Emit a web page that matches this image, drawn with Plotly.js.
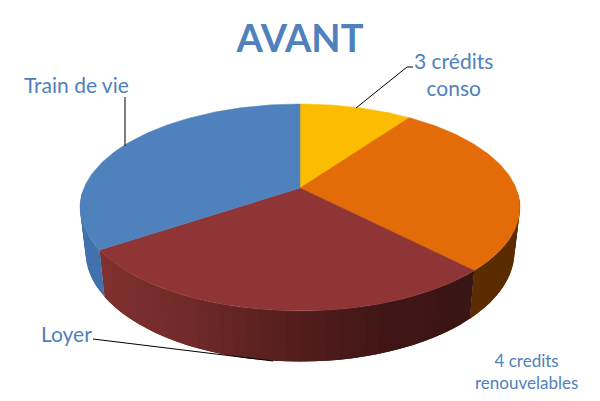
<!DOCTYPE html>
<html><head><meta charset="utf-8">
<script src="https://cdn.plot.ly/plotly-3.0.0.min.js"></script>
<style>html,body{margin:0;padding:0;background:#fff}#c{width:600px;height:401px}</style>
</head><body><div id="c"></div>
<script>
// Data, clockwise from the top of the pie
const categories = ["3 crédits conso", "4 credits renouvelables", "Loyer", "Train de vie"];
const values = [9.9, 27.8, 27.9, 34.4];

// Styles
const topColors = ["#FCBD00", "#E36C09", "#8F3535", "#4F81BD"];
const textColor = "#4F81BD";
const fontFamily = "Lato, 'Open Sans', sans-serif";

// Perspective of the tilted disc, in picture units
const k = 0.188;
const topFace = {cx: 300, cy: 188, a: 216, b: 99.8};
const bottomFace = {cx: 300, cy: 231, a: 210.6, b: 106};
function project(face, deg) {
  const t = deg * Math.PI / 180, u = Math.sin(t), v = -Math.cos(t), w = 1 - k * v;
  return [face.cx + face.a * u / w, face.cy + face.b * v / w];
}
function wallColor(i, x) {
  if (i === 3) return "#4272AB";
  if (i === 1) return "#5A2C00";
  if (i === 0) return "#7A5C00";
  const stops = [[100,[128,49,48]],[200,[112,42,41]],[300,[86,30,30]],[400,[64,22,21]],[470,[57,21,20]]];
  let a = stops[0], b = stops[stops.length-1];
  for (let j = 0; j < stops.length-1; j++) if (x >= stops[j][0] && x <= stops[j+1][0]) { a = stops[j]; b = stops[j+1]; }
  const f = Math.min(1, Math.max(0, (x - a[0]) / (b[0] - a[0])));
  return "rgb(" + a[1].map((c, n) => Math.round(c + (b[1][n] - c) * f)).join(",") + ")";
}

const total = values.reduce((s, v) => s + v, 0);
const traces = [];
const base = {type: "scatter", mode: "none", fill: "toself", hoverinfo: "skip", showlegend: false};
let start = 0;
const spans = values.map(v => { const s = [start, start + v / total * 360]; start = s[1]; return s; });

// Side wall in strips: the rim's outline follows the tilted disc and the red shade changes along it.
spans.forEach((s, i) => {
  const from = Math.max(s[0], 92), to = Math.min(s[1], 268);
  if (to <= from) return;
  const n = Math.ceil((to - from) / 3);
  for (let j = n - 1; j >= 0; j--) {
    const a0 = from + (to - from) * j / n;
    // each strip runs on under its neighbour so no seam shows between them
    const a1 = Math.min(to, from + (to - from) * (j + 2) / n);
    const a1own = from + (to - from) * (j + 1) / n;
    const aMid = (a0 + a1) / 2;
    const p = [project(topFace, a0), project(topFace, aMid), project(topFace, a1),
               project(bottomFace, a1), project(bottomFace, aMid), project(bottomFace, a0), project(topFace, a0)];
    const col = wallColor(i, project(topFace, (a0 + a1own) / 2)[0]);
    traces.push(Object.assign({}, base, {x: p.map(q => q[0]), y: p.map(q => q[1]), fillcolor: col}));
  }
});

// Top face
spans.forEach((s, i) => {
  const xs = [topFace.cx], ys = [topFace.cy];
  const n = Math.ceil(s[1] - s[0]);
  for (let j = 0; j <= n; j++) {
    const p = project(topFace, s[0] + (s[1] - s[0]) * j / n);
    xs.push(p[0]); ys.push(p[1]);
  }
  xs.push(topFace.cx); ys.push(topFace.cy);
  traces.push(Object.assign({}, base, {mode: "lines", x: xs, y: ys, name: categories[i],
    fillcolor: topColors[i], line: {color: topColors[i], width: 0.5}}));
});

// Leader lines
const leaderX = [[125,125],[356,407,413],[93,273]];
const leaderY = [[97,146],[108,67,67],[339,361]];
leaderX.forEach((lx, i) => traces.push({type: "scatter", mode: "lines", x: lx, y: leaderY[i],
  line: {color: "#000", width: 1}, hoverinfo: "skip", showlegend: false}));

// Label positions
const labelTexts = ["Train de vie", "3 crédits<br>conso", "Loyer", "4 credits<br>renouvelables"];
const labelX = [76, 453, 66, 526];
const labelY = [84, 74, 333, 371];
const labelSize = [21, 21, 21, 17];
const annotations = labelTexts.map((t, i) => ({
  text: t, x: labelX[i], y: labelY[i], xref: "x", yref: "y", showarrow: false,
  xanchor: "center", yanchor: "middle", align: "center",
  font: {family: fontFamily, size: labelSize[i], color: textColor}
}));

Plotly.newPlot("c", traces, {
  width: 600, height: 401,
  margin: {l: 0, r: 0, t: 0, b: 0},
  paper_bgcolor: "#fff", plot_bgcolor: "#fff",
  showlegend: false,
  title: {text: "<b>AVANT</b>", x: 0.5, xanchor: "center", y: 1 - 39 / 401, yanchor: "middle",
    font: {family: fontFamily, size: 38, color: textColor}},
  xaxis: {range: [0, 600], visible: false, fixedrange: true},
  yaxis: {range: [401, 0], visible: false, fixedrange: true},
  annotations: annotations
}, {displayModeBar: false, staticPlot: true});
</script></body></html>
